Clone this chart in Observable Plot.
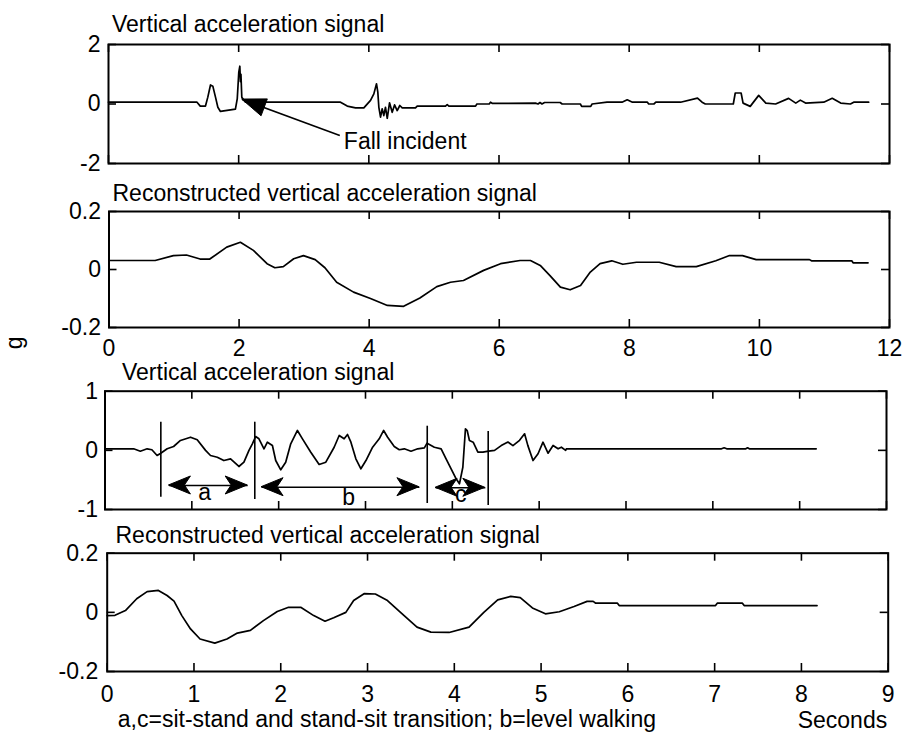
<!DOCTYPE html>
<html>
<head>
<meta charset="utf-8">
<script src="https://cdn.jsdelivr.net/npm/d3@7"></script>
<script src="https://cdn.jsdelivr.net/npm/@observablehq/plot@0.6"></script>
<style>
html, body { margin: 0; padding: 0; background: #fff; overflow: hidden; }
#chart { position: relative; width: 903px; height: 734px; background: #fff; }
#chart svg { display: block; position: absolute; left: 0; overflow: visible; }
</style>
</head>
<body>
<div id="chart"></div>
<script>
// ---------- Panel 1: vertical acceleration signal (fall) ----------
const p1Time  = [0, 1.36, 1.41, 1.49, 1.526, 1.567, 1.603, 1.644, 1.68, 1.72, 1.95, 1.978, 2.002, 2.018, 2.027, 2.035, 2.048, 2.105,
  3.565, 3.668, 3.795, 3.923, 4.026, 4.077, 4.118, 4.138, 4.154, 4.18, 4.205, 4.23, 4.256, 4.283, 4.318, 4.359, 4.395, 4.436, 4.476, 4.513,
  4.717, 4.743, 5.178, 5.204, 5.23, 5.64, 5.66, 5.85, 5.87, 5.9, 6.56, 6.6, 6.63, 6.66, 6.7, 6.94, 6.97, 7.25, 7.27, 7.41, 7.43,
  7.66, 7.89, 7.97, 8.05, 8.28, 8.3, 8.38, 8.41, 8.79, 9.05, 9.12, 9.17, 9.6, 9.63, 9.72, 9.75, 9.86, 9.99, 10.04, 10.1, 10.25,
  10.45, 10.56, 10.63, 10.71, 10.99, 11.12, 11.25, 11.4, 11.45, 11.68];
const p1Value = [0.06, 0.06, -0.07, -0.07, 0.23, 0.64, 0.6, 0.23, -0.11, -0.25, -0.17, 0.17, 1.07, 1.27, 0.75, 1.0, 0.23, 0.06,
  0.06, -0.07, -0.13, -0.13, 0.12, 0.34, 0.68, 0.4, -0.11, -0.44, -0.16, -0.39, -0.11, -0.48, 0.04, -0.28, -0.03, -0.22, -0.05, -0.13,
  -0.13, -0.07, -0.07, -0.02, -0.07, -0.07, 0.0, 0.0, 0.06, 0.02, 0.03, 0.0, 0.05, 0.0, 0.05, 0.05, 0.0, 0.0, -0.08, -0.08, 0.0,
  0.06, 0.06, 0.14, 0.06, 0.06, 0.0, 0.0, 0.06, 0.06, 0.2, 0.06, 0.0, 0.0, 0.37, 0.37, 0.03, -0.08, 0.29, 0.17, 0.03, 0.0,
  0.19, 0.03, 0.13, 0.03, 0.06, 0.19, 0.03, 0.0, 0.06, 0.06];

// ---------- Panel 2: reconstructed signal (fall) ----------
const p2Time  = [0, 0.71, 0.99, 1.19, 1.4, 1.55, 1.81, 2.02, 2.22, 2.43, 2.55, 2.68, 2.84, 2.99, 3.17, 3.32, 3.5, 3.76, 4.02, 4.28,
  4.53, 4.78, 5.04, 5.25, 5.45, 5.76, 6.02, 6.32, 6.48, 6.63, 6.78, 6.94, 7.09, 7.25, 7.4, 7.55, 7.73, 7.9, 8.11, 8.46, 8.72,
  9.03, 9.33, 9.54, 9.74, 9.95, 10.77, 10.8, 11.42, 11.44, 11.67];
const p2Value = [0.031, 0.031, 0.048, 0.05, 0.036, 0.036, 0.077, 0.094, 0.066, 0.02, 0.006, 0.01, 0.037, 0.048, 0.034, 0.006, -0.044, -0.078, -0.1, -0.124,
  -0.127, -0.098, -0.059, -0.044, -0.038, -0.003, 0.02, 0.031, 0.031, 0.014, -0.021, -0.061, -0.07, -0.055, -0.009, 0.02, 0.03, 0.018, 0.025, 0.025, 0.01,
  0.01, 0.03, 0.048, 0.048, 0.034, 0.034, 0.03, 0.03, 0.023, 0.023];

// ---------- Panel 3: vertical acceleration signal (ADL) ----------
const p3Time  = [0, 0.33, 0.407, 0.485, 0.54, 0.6, 0.638, 0.716, 0.79, 0.869, 0.985, 1.062, 1.158, 1.215, 1.293, 1.369, 1.446, 1.542, 1.6,
  1.658, 1.697, 1.735, 1.773, 1.831, 1.87, 1.928, 1.966, 2.024, 2.081, 2.139, 2.216, 2.274, 2.37, 2.466, 2.543, 2.639, 2.697, 2.754,
  2.793, 2.832, 2.889, 2.947, 3.005, 3.082, 3.158, 3.209, 3.255, 3.331, 3.389, 3.447, 3.524, 3.601, 3.678, 3.709, 3.793, 3.871,
  3.928, 3.986, 4.044, 4.082, 4.121, 4.151, 4.171, 4.197, 4.24, 4.294, 4.352, 4.417, 4.486, 4.563, 4.64, 4.698, 4.774, 4.832,
  4.87, 4.929, 4.987, 5.044, 5.102, 5.16, 5.218, 5.256, 5.305, 5.313, 7.1, 7.13, 7.16, 7.38, 7.4, 7.42, 8.19];
const p3Value = [0.026, 0.026, -0.014, 0.026, 0.01, -0.087, -0.053, 0.026, 0.065, 0.167, 0.222, 0.178, 0, -0.087, -0.116, -0.172, -0.143, -0.273, -0.2,
  0, 0.11, 0.234, 0.195, 0.026, 0.138, 0.082, -0.172, -0.329, -0.2, 0.11, 0.336, 0.195, -0.031, -0.239, -0.2, 0.053, 0.251, 0.195,
  0.268, 0.138, -0.143, -0.312, -0.172, 0.053, 0.195, 0.336, 0.222, 0.065, 0.01, 0.026, -0.014, 0.026, 0.043, 0.121, 0.053, 0.026,
  -0.143, -0.312, -0.481, -0.566, -0.285, 0.364, 0.335, 0.167, 0.138, -0.031, -0.031, -0.014, 0, 0.08, 0.14, 0.08, 0.17, 0.28,
  0.08, -0.172, -0.058, 0.138, -0.048, 0.082, 0.026, 0.053, 0, 0.026, 0.026, 0.043, 0.026, 0.026, 0.043, 0.026, 0.026];

// ---------- Panel 4: reconstructed signal (ADL) ----------
const p4Time  = [0, 0.09, 0.21, 0.34, 0.46, 0.59, 0.69, 0.77, 0.86, 0.96, 1.07, 1.24, 1.38, 1.5, 1.65, 1.8, 1.96, 2.09, 2.23, 2.38,
  2.51, 2.61, 2.75, 2.84, 2.96, 3.09, 3.23, 3.38, 3.57, 3.73, 3.94, 4.17, 4.34, 4.5, 4.65, 4.76, 4.9, 5.05, 5.21, 5.38, 5.53,
  5.6, 5.63, 5.88, 5.9, 7.01, 7.03, 7.32, 7.34, 8.18];
const p4Value = [-0.011, -0.01, 0.006, 0.046, 0.07, 0.074, 0.057, 0.038, -0.011, -0.056, -0.09, -0.104, -0.09, -0.07, -0.061, -0.028, 0.003, 0.017, 0.017, -0.011,
  -0.03, -0.018, 0.0, 0.04, 0.063, 0.062, 0.04, 0.0, -0.05, -0.067, -0.068, -0.05, 0.0, 0.042, 0.054, 0.05, 0.015, -0.005, 0.002, 0.02, 0.037,
  0.037, 0.031, 0.031, 0.023, 0.023, 0.031, 0.031, 0.023, 0.023];

// ---------- axes ----------
const ticksX12 = [0, 2, 4, 6, 8, 10, 12];
const ticksX9  = [0, 1, 2, 3, 4, 5, 6, 7, 8, 9];
const ticksY2  = [-2, 0, 2];
const ticksY02 = [-0.2, 0, 0.2];
const ticksY1  = [-1, 0, 1];

// ---------- texts ----------
const titleRaw = "Vertical acceleration signal";
const titleRec = "Reconstructed vertical acceleration signal";
const yLabel = "g";
const xLabel = "Seconds";
const caption = "a,c=sit-stand and stand-sit transition; b=level walking";

// ---------- annotations (data units) ----------
const fallText = ["Fall incident"];
const fallTextX = [3.616], fallTextY = [-1.506];
const fallTail = [[3.554, -1.06]];
const fallTip  = [[2.054, 0.15]];

const markerX  = [0.643, 1.725, 3.711, 4.413];
const markerY1 = [0.476, 0.476, 0.408, 0.319];
const markerY2 = [-0.792, -0.831, -0.899, -0.932];

const spanX1 = [0.736, 1.803, 3.807];
const spanX2 = [1.643, 3.621, 4.38];
const spanY  = [-0.594, -0.623, -0.633];
const spanLabel  = ["a", "b", "c"];
const spanLabelX = [1.148, 2.806, 4.098];
const spanLabelY = [-0.836, -0.917, -0.877];

const FONT = "'Liberation Sans', Arial, Helvetica, sans-serif";
const NS = "http://www.w3.org/2000/svg";

// filled arrowheads drawn through the plot's scales
function arrowHeads(tails, tips, {length = 24, halfWidth = 9, notch = 0} = {}) {
  return (index, scales) => {
    const g = document.createElementNS(NS, "g");
    tips.forEach(([tx, ty], i) => {
      const [fx, fy] = tails[i];
      const x1 = scales.x(tx), y1 = scales.y(ty);
      const x0 = scales.x(fx), y0 = scales.y(fy);
      const d = Math.hypot(x1 - x0, y1 - y0) || 1;
      const ux = (x1 - x0) / d, uy = (y1 - y0) / d;
      const bx = x1 - ux * length, by = y1 - uy * length;
      const px = -uy, py = ux;
      const nx = x1 - ux * (length - notch), ny = y1 - uy * (length - notch);
      const p = document.createElementNS(NS, "path");
      p.setAttribute("d", `M${x1},${y1}L${bx + px * halfWidth},${by + py * halfWidth}L${nx},${ny}L${bx - px * halfWidth},${by - py * halfWidth}Z`);
      p.setAttribute("fill", "black");
      p.setAttribute("stroke", "black");
      p.setAttribute("stroke-width", "1");
      g.appendChild(p);
    });
    return g;
  };
}

function panel(c) {
  const width = 903;
  const fw = width - c.ml - c.mr, fh = c.height - c.mt - c.mb, tl = 8;
  const marks = [
    Plot.frame({stroke: "black", strokeWidth: 2}),
    Plot.tickX(c.xTicks, {x: d => d, insetTop: fh - tl, stroke: "black", strokeWidth: 1.6}),
    Plot.tickX(c.xTicks, {x: d => d, insetBottom: fh - tl, stroke: "black", strokeWidth: 1.6}),
    Plot.tickY(c.yTicks, {y: d => d, insetRight: fw - tl, stroke: "black", strokeWidth: 1.6}),
    Plot.tickY(c.yTicks, {y: d => d, insetLeft: fw - tl, stroke: "black", strokeWidth: 1.6}),
    Plot.axisY(c.yTicks, {anchor: "left", tickSize: 0, tickPadding: c.yPad, tickFormat: d => String(d), label: null}),
    Plot.line(c.value, {x: c.time, y: c.value, stroke: "black", strokeWidth: 1.7, curve: "linear"}),
    Plot.text([c.title], {frameAnchor: "top-left", dx: c.titleDx, dy: c.titleDy, lineAnchor: "bottom", textAnchor: "start"})
  ];
  if (c.showX) marks.push(Plot.axisX(c.xTicks, {anchor: "bottom", tickSize: 0, tickPadding: c.xPad, tickFormat: d => String(d), label: null}));
  const svg = Plot.plot({
    width, height: c.height,
    marginTop: c.mt, marginBottom: c.mb, marginLeft: c.ml, marginRight: c.mr,
    x: {domain: c.xDomain, axis: null},
    y: {domain: c.yDomain, axis: null},
    style: {fontFamily: FONT, fontSize: "23px", color: "black", background: "transparent", overflow: "visible"},
    marks: marks.concat(c.extra || [])
  });
  svg.style.top = c.top + "px";
  return svg;
}

const chart = document.getElementById("chart");

chart.append(panel({
  top: 0, height: 180, mt: 44, mb: 17, ml: 108, mr: 14,
  xDomain: [0, 12], xTicks: ticksX12, yDomain: [-2, 2], yTicks: ticksY2, yPad: 8,
  time: p1Time, value: p1Value, title: titleRaw, titleDx: 3.5, titleDy: -12.3, showX: false,
  extra: [
    Plot.link([0], {x1: [fallTail[0][0]], y1: [fallTail[0][1]], x2: [fallTip[0][0]], y2: [fallTip[0][1]], stroke: "black", strokeWidth: 1.6}),
    arrowHeads(fallTail, fallTip, {length: 24, halfWidth: 9, notch: 0}),
    Plot.text(fallText, {x: fallTextX, y: fallTextY, text: d => d, textAnchor: "start", lineAnchor: "bottom"})
  ]
}));

chart.append(panel({
  top: 180, height: 180, mt: 31, mb: 33, ml: 108.5, mr: 14,
  xDomain: [0, 12], xTicks: ticksX12, yDomain: [-0.2, 0.2], yTicks: ticksY02, yPad: 8, xPad: 12,
  time: p2Time, value: p2Value, title: titleRec, titleDx: 3.5, titleDy: -10.3, showX: true,
  extra: [
    Plot.text([yLabel], {frameAnchor: "bottom-left", dx: -86.9, dy: 15.3, rotate: -90, textAnchor: "middle", lineAnchor: "bottom"})
  ]
}));

const spanTailsL = spanY.map((y, i) => [spanX2[i], y]);
const spanTipsL  = spanY.map((y, i) => [spanX1[i], y]);
const spanTailsR = spanY.map((y, i) => [spanX1[i], y]);
const spanTipsR  = spanY.map((y, i) => [spanX2[i], y]);

chart.append(panel({
  top: 360, height: 170, mt: 30.7, mb: 21, ml: 104.5, mr: 17,
  xDomain: [0, 9], xTicks: ticksX9, yDomain: [-1, 1], yTicks: ticksY1, yPad: 7,
  time: p3Time, value: p3Value, title: titleRaw, titleDx: 17, titleDy: -11.7, showX: false,
  extra: [
    Plot.ruleX(markerX, {x: markerX, y1: markerY1, y2: markerY2, stroke: "black", strokeWidth: 1.6}),
    Plot.link(spanY, {x1: spanX1, x2: spanX2, y1: spanY, y2: spanY, stroke: "black", strokeWidth: 1.5}),
    arrowHeads(spanTailsL, spanTipsL, {length: 22, halfWidth: 9, notch: 6}),
    arrowHeads(spanTailsR, spanTipsR, {length: 22, halfWidth: 9, notch: 6}),
    Plot.text(spanLabel, {x: spanLabelX, y: spanLabelY, text: d => d, textAnchor: "middle", lineAnchor: "bottom"})
  ]
}));

chart.append(panel({
  top: 520, height: 214, mt: 32.7, mb: 63, ml: 106.7, mr: 15.3,
  xDomain: [0, 9], xTicks: ticksX9, yDomain: [-0.2, 0.2], yTicks: ticksY02, yPad: 9, xPad: 14,
  time: p4Time, value: p4Value, title: titleRec, titleDx: 8.3, titleDy: -10, showX: true,
  extra: [
    Plot.text([caption], {frameAnchor: "bottom-left", dx: 10.6, dy: 55, textAnchor: "start", lineAnchor: "bottom"}),
    Plot.text([xLabel], {frameAnchor: "bottom-right", dx: -1, dy: 56, textAnchor: "end", lineAnchor: "bottom"})
  ]
}));
</script>
</body>
</html>
